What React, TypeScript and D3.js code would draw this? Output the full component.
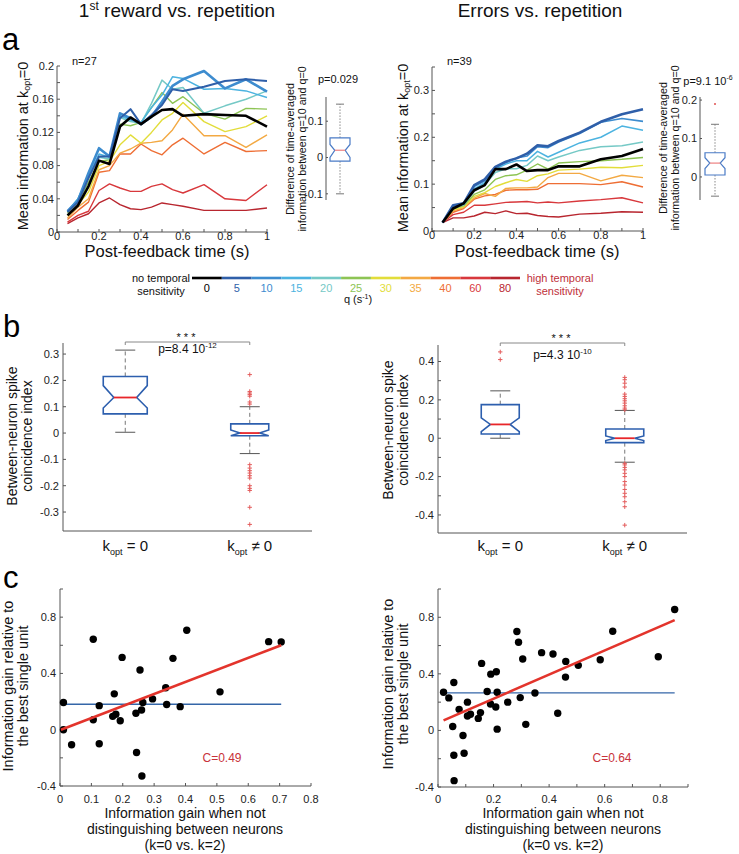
import React from 'react';
import * as d3 from 'd3';

const FONT = "'Liberation Sans', Arial, Helvetica, sans-serif";
const W = 739;
const H = 854;

// ---------------- data ----------------
const qValues = ['0', '5', '10', '15', '20', '25', '30', '35', '40', '60', '80'];
const qColors = ['#000000', '#2f5fa9', '#3d8ccf', '#4cb3e0', '#75c9c6', '#8dc454', '#e2dd3a', '#f3a943', '#ee6e34', '#d8383c', '#b8262f'];
const postFeedbackTimes = [0.05, 0.1, 0.15, 0.2, 0.25, 0.3, 0.35, 0.4, 0.45, 0.5, 0.55, 0.6, 0.7, 0.8, 0.9, 1.0];

// 1st reward vs repetition: mean information per q (rows follow qValues)
const rewardInfo = [
  [0.020, 0.032, 0.055, 0.086, 0.082, 0.127, 0.138, 0.130, 0.139, 0.147, 0.148, 0.140, 0.142, 0.141, 0.140, 0.127],
  [0.024, 0.036, 0.065, 0.091, 0.091, 0.137, 0.148, 0.130, 0.141, 0.153, 0.172, 0.170, 0.175, 0.182, 0.184, 0.182],
  [0.025, 0.038, 0.071, 0.101, 0.091, 0.143, 0.137, 0.130, 0.139, 0.157, 0.176, 0.184, 0.194, 0.173, 0.184, 0.169],
  [0.025, 0.040, 0.068, 0.094, 0.090, 0.140, 0.135, 0.132, 0.150, 0.165, 0.187, 0.185, 0.172, 0.173, 0.170, 0.162],
  [0.024, 0.040, 0.066, 0.090, 0.088, 0.138, 0.133, 0.131, 0.155, 0.183, 0.172, 0.174, 0.143, 0.152, 0.160, 0.170],
  [0.023, 0.036, 0.060, 0.085, 0.087, 0.130, 0.128, 0.132, 0.150, 0.168, 0.155, 0.163, 0.143, 0.136, 0.149, 0.148],
  [0.020, 0.033, 0.048, 0.080, 0.085, 0.105, 0.117, 0.107, 0.120, 0.135, 0.143, 0.156, 0.133, 0.121, 0.127, 0.140],
  [0.017, 0.030, 0.040, 0.075, 0.080, 0.095, 0.100, 0.107, 0.108, 0.110, 0.123, 0.142, 0.116, 0.116, 0.102, 0.117],
  [0.015, 0.026, 0.036, 0.072, 0.074, 0.094, 0.094, 0.106, 0.098, 0.093, 0.105, 0.113, 0.094, 0.108, 0.097, 0.098],
  [0.012, 0.020, 0.025, 0.050, 0.058, 0.053, 0.049, 0.049, 0.055, 0.058, 0.051, 0.047, 0.057, 0.040, 0.038, 0.057],
  [0.010, 0.017, 0.022, 0.035, 0.041, 0.033, 0.028, 0.027, 0.030, 0.035, 0.033, 0.031, 0.026, 0.026, 0.026, 0.029],
];
const rewardLineWidths = [2.6, 2.0, 2.6, 1.5, 1.5, 1.4, 1.4, 1.4, 1.4, 1.4, 1.4];

// Errors vs repetition
const errorInfo = [
  [0.018, 0.048, 0.059, 0.087, 0.098, 0.132, 0.132, 0.142, 0.128, 0.130, 0.130, 0.138, 0.138, 0.153, 0.160, 0.175],
  [0.018, 0.055, 0.059, 0.098, 0.110, 0.137, 0.148, 0.155, 0.165, 0.183, 0.181, 0.192, 0.210, 0.233, 0.249, 0.260],
  [0.018, 0.054, 0.058, 0.095, 0.107, 0.135, 0.146, 0.156, 0.160, 0.180, 0.178, 0.190, 0.208, 0.232, 0.240, 0.234],
  [0.018, 0.052, 0.057, 0.090, 0.103, 0.132, 0.143, 0.150, 0.150, 0.170, 0.158, 0.168, 0.188, 0.200, 0.224, 0.215],
  [0.018, 0.050, 0.056, 0.085, 0.098, 0.125, 0.133, 0.133, 0.140, 0.160, 0.150, 0.158, 0.172, 0.180, 0.182, 0.190],
  [0.018, 0.048, 0.054, 0.078, 0.088, 0.110, 0.118, 0.120, 0.130, 0.143, 0.132, 0.145, 0.148, 0.150, 0.153, 0.157],
  [0.018, 0.045, 0.052, 0.074, 0.082, 0.095, 0.103, 0.110, 0.106, 0.118, 0.122, 0.130, 0.132, 0.136, 0.135, 0.140],
  [0.018, 0.043, 0.050, 0.070, 0.080, 0.074, 0.091, 0.092, 0.092, 0.094, 0.114, 0.123, 0.123, 0.107, 0.119, 0.114],
  [0.018, 0.040, 0.048, 0.068, 0.075, 0.078, 0.087, 0.088, 0.088, 0.089, 0.101, 0.101, 0.101, 0.099, 0.105, 0.094],
  [0.018, 0.035, 0.040, 0.055, 0.055, 0.058, 0.061, 0.062, 0.063, 0.060, 0.062, 0.060, 0.064, 0.067, 0.071, 0.060],
  [0.018, 0.028, 0.028, 0.032, 0.040, 0.037, 0.043, 0.037, 0.038, 0.033, 0.031, 0.030, 0.036, 0.038, 0.041, 0.040],
];
const errorLineWidths = [2.6, 2.6, 1.6, 1.5, 1.5, 1.4, 1.4, 1.4, 1.4, 1.4, 1.4];

// difference boxplots (q=10 vs q=0)
const rewardDiffStats = { wLo: -0.1, q1: -0.01, nLo: 0.0, med: 0.02, nHi: 0.036, q3: 0.054, wHi: 0.147 };
const rewardDiffOutliers: number[] = [];
const errorDiffStats = { wLo: -0.05, q1: 0.005, nLo: 0.022, med: 0.036, nHi: 0.05, q3: 0.063, wHi: 0.137 };
const errorDiffOutliers = [0.19];

// coincidence index boxplots
const rewardCoincStats = [
  { wLo: 0.003, q1: 0.073, nLo: 0.095, med: 0.135, nHi: 0.18, q3: 0.215, wHi: 0.315 },
  { wLo: -0.078, q1: -0.01, nLo: -0.01, med: 0.0, nHi: 0.012, q3: 0.035, wHi: 0.1 },
];
const rewardCoincOutliers = [
  [] as number[],
  [0.222, 0.158, 0.152, 0.146, 0.14, 0.118, 0.11, -0.12, -0.133, -0.143, -0.152, -0.162, -0.171, -0.2, -0.21, -0.218, -0.282, -0.347],
];
const errorCoincStats = [
  { wLo: 0.0, q1: 0.022, nLo: 0.035, med: 0.072, nHi: 0.106, q3: 0.175, wHi: 0.247 },
  { wLo: -0.125, q1: -0.023, nLo: -0.012, med: 0.0, nHi: 0.012, q3: 0.048, wHi: 0.145 },
];
const errorCoincOutliers = [
  [0.45, 0.41],
  [0.317, 0.305, 0.287, 0.267, 0.23, 0.218, 0.206, 0.195, 0.183, 0.169, 0.157, 0.148,
    -0.131, -0.139, -0.152, -0.165, -0.183, -0.2, -0.226, -0.244, -0.267, -0.287, -0.305, -0.331, -0.357, -0.453],
];

// information gain scatter
const rewardGainX = [0.011, 0.011, 0.037, 0.106, 0.106, 0.125, 0.125, 0.173, 0.168, 0.178, 0.198, 0.192, 0.255, 0.242, 0.244, 0.26, 0.264, 0.261, 0.295, 0.337, 0.34, 0.36, 0.383, 0.404, 0.51, 0.665, 0.705];
const rewardGainY = [0.193, 0.0, -0.107, 0.643, 0.071, 0.171, -0.1, 0.255, 0.095, 0.11, 0.514, 0.064, 0.424, 0.117, -0.162, 0.14, 0.193, -0.329, 0.219, 0.298, 0.179, 0.507, 0.164, 0.707, 0.269, 0.626, 0.624];
const rewardFitX = [0.003, 0.705];
const rewardFitY = [0.0, 0.6];
const rewardMeanY = 0.181;

const errorGainX = [0.02, 0.039, 0.057, 0.053, 0.057, 0.058, 0.076, 0.09, 0.094, 0.106, 0.106, 0.117, 0.145, 0.153, 0.157, 0.177, 0.19, 0.189, 0.21, 0.208, 0.213, 0.213, 0.251, 0.284, 0.29, 0.296, 0.305, 0.316, 0.349, 0.373, 0.414, 0.431, 0.46, 0.459, 0.505, 0.584, 0.629, 0.793, 0.852];
const errorGainY = [0.27, 0.23, 0.339, 0.028, -0.175, -0.355, 0.149, -0.036, -0.161, 0.2, 0.102, 0.114, 0.085, 0.126, 0.474, 0.275, 0.398, 0.187, 0.415, 0.166, 0.27, 0.009, 0.2, 0.699, 0.623, 0.232, 0.505, 0.043, 0.265, 0.55, 0.54, 0.121, 0.488, 0.377, 0.46, 0.5, 0.701, 0.521, 0.855];
const errorFitX = [0.02, 0.852];
const errorFitY = [0.071, 0.78];
const errorMeanY = 0.265;

// ---------------- helpers ----------------
const fmt = (v: number) => String(+v.toFixed(3));
const AX = '#555';

type Scale = d3.ScaleLinear<number, number>;

function LeftAxis({ x, y, ticks, labels, fontSize = 11, len = 3, gap = 3, top, bottom }:
  { x: number; y: Scale; ticks: number[]; labels: number[]; fontSize?: number; len?: number; gap?: number; top: number; bottom: number }) {
  return (
    <g>
      <line x1={x} x2={x} y1={top} y2={bottom} stroke={AX} strokeWidth={1} />
      {ticks.map((t, i) => (
        <line key={'t' + i} x1={x} x2={x + len} y1={y(t)} y2={y(t)} stroke={AX} strokeWidth={1} />
      ))}
      {labels.map((t, i) => (
        <text key={'l' + i} x={x - gap} y={y(t)} dy="0.35em" textAnchor="end" fontSize={fontSize} fill="#222">{fmt(t)}</text>
      ))}
    </g>
  );
}

function BottomAxis({ y, x, ticks, labels, fontSize = 11, len = 3, left, right, labelY }:
  { y: number; x: Scale; ticks: number[]; labels: number[]; fontSize?: number; len?: number; left: number; right: number; labelY: number }) {
  return (
    <g>
      <line x1={left} x2={right} y1={y} y2={y} stroke={AX} strokeWidth={1} />
      {ticks.map((t, i) => (
        <line key={'t' + i} x1={x(t)} x2={x(t)} y1={y} y2={y - len} stroke={AX} strokeWidth={1} />
      ))}
      {labels.map((t, i) => (
        <text key={'l' + i} x={x(t)} y={labelY} textAnchor="middle" fontSize={fontSize} fill="#222">{fmt(t)}</text>
      ))}
    </g>
  );
}

type BoxStats = { wLo: number; q1: number; nLo: number; med: number; nHi: number; q3: number; wHi: number };

function NotchBox({ cx, w, y, s, outliers, boxColor, boxW, medColor, medW, whiskColor, whiskDash, capColor, capW, outColor, outSize }:
  { cx: number; w: number; y: Scale; s: BoxStats; outliers: number[]; boxColor: string; boxW: number; medColor: string; medW: number;
    whiskColor: string; whiskDash: string; capColor: string; capW: number; outColor: string; outSize: number }) {
  const l = cx - w / 2;
  const r = cx + w / 2;
  const ins = w * 0.24;
  const pts: [number, number][] = [
    [l, y(s.q3)], [r, y(s.q3)], [r, y(s.nHi)], [r - ins, y(s.med)], [r, y(s.nLo)], [r, y(s.q1)],
    [l, y(s.q1)], [l, y(s.nLo)], [l + ins, y(s.med)], [l, y(s.nHi)],
  ];
  const poly = d3.line()(pts) + 'Z';
  return (
    <g>
      <line x1={cx} x2={cx} y1={y(s.q3)} y2={y(s.wHi)} stroke={whiskColor} strokeWidth={1} strokeDasharray={whiskDash} />
      <line x1={cx} x2={cx} y1={y(s.q1)} y2={y(s.wLo)} stroke={whiskColor} strokeWidth={1} strokeDasharray={whiskDash} />
      <line x1={cx - capW / 2} x2={cx + capW / 2} y1={y(s.wHi)} y2={y(s.wHi)} stroke={capColor} strokeWidth={1} />
      <line x1={cx - capW / 2} x2={cx + capW / 2} y1={y(s.wLo)} y2={y(s.wLo)} stroke={capColor} strokeWidth={1} />
      <path d={poly} fill="none" stroke={boxColor} strokeWidth={boxW} strokeLinejoin="miter" />
      <line x1={l + ins} x2={r - ins} y1={y(s.med)} y2={y(s.med)} stroke={medColor} strokeWidth={medW} />
      {outliers.map((o, i) => (
        <g key={i} stroke={outColor} strokeWidth={1}>
          <line x1={cx - outSize} x2={cx + outSize} y1={y(o)} y2={y(o)} />
          <line x1={cx} x2={cx} y1={y(o) - outSize} y2={y(o) + outSize} />
        </g>
      ))}
    </g>
  );
}

function RotText({ x, y, size, children }: { x: number; y: number; size: number; children: React.ReactNode }) {
  return (
    <text transform={`translate(${x},${y}) rotate(-90)`} textAnchor="middle" dominantBaseline="central" fontSize={size} fill="#111">
      {children}
    </text>
  );
}

// ---------------- panel a ----------------
function InfoPanel({ xr, yr, yDomain, yLabels, yStep, series, widths, nLabel, nX }:
  { xr: [number, number]; yr: [number, number]; yDomain: [number, number]; yLabels: number[]; yStep: number;
    series: number[][]; widths: number[]; nLabel: string; nX: number }) {
  const x = d3.scaleLinear().domain([0, 1]).range(xr);
  const y = d3.scaleLinear().domain(yDomain).range(yr);
  const line = d3.line<number>().x((_, i) => x(postFeedbackTimes[i])).y((d) => y(d));
  const yTicks = d3.range(0, yDomain[1] + 1e-9, yStep);
  const xTicks = d3.range(0, 1.0001, 0.1);
  const order = [...d3.range(1, series.length).reverse(), 0];
  return (
    <g>
      <LeftAxis x={xr[0]} y={y} ticks={yTicks} labels={yLabels} top={yr[1]} bottom={yr[0]} fontSize={11} gap={3} />
      <BottomAxis y={yr[0]} x={x} ticks={xTicks} labels={[0, 0.2, 0.4, 0.6, 0.8, 1]} left={xr[0]} right={xr[1]} labelY={yr[0] + 7.5} fontSize={11} />
      {order.map((k) => (
        <path key={k} d={line(series[k]) || ''} fill="none" stroke={qColors[k]} strokeWidth={widths[k]} strokeLinejoin="round" />
      ))}
      <text x={nX} y={65} fontSize={11} fill="#111">{nLabel}</text>
    </g>
  );
}

function DiffBox({ axX, cx, yDomain, top, bottom, labels, stats, outliers }:
  { axX: number; cx: number; yDomain: [number, number]; top: number; bottom: number; labels: number[]; stats: BoxStats; outliers: number[] }) {
  const y = d3.scaleLinear().domain(yDomain).range([bottom, top]);
  return (
    <g>
      <LeftAxis x={axX} y={y} ticks={labels} labels={labels} top={top} bottom={bottom} fontSize={11} gap={3} len={2} />
      <NotchBox cx={cx} w={20} y={y} s={stats} outliers={[]} boxColor="#4a7bc6" boxW={1.2} medColor="#ef8a8a" medW={1.3}
        whiskColor="#888" whiskDash="1.5,1.5" capColor="#777" capW={8} outColor="#e05050" outSize={1} />
      {outliers.map((o, i) => (
        <circle key={i} cx={cx} cy={y(o)} r={1} fill="#e05050" />
      ))}
    </g>
  );
}

// ---------------- panel b ----------------
function CoincPanel({ xr, yr, yDomain, yTicks, yLabels, stats, outliers, widths, pMain, pExp, pY, starY, bracketY }:
  { xr: [number, number]; yr: [number, number]; yDomain: [number, number]; yTicks: number[]; yLabels: number[];
    stats: BoxStats[]; outliers: number[][]; widths: number[]; pMain: string; pExp: string; pY: number; starY: number; bracketY: number }) {
  const x = d3.scaleLinear().domain([0.5, 2.5]).range(xr);
  const y = d3.scaleLinear().domain(yDomain).range(yr);
  const c1 = x(1);
  const c2 = x(2);
  return (
    <g>
      <LeftAxis x={xr[0]} y={y} ticks={yTicks} labels={yLabels} top={yr[1]} bottom={yr[0]} fontSize={11} gap={4} />
      <line x1={xr[0]} x2={xr[1]} y1={yr[0]} y2={yr[0]} stroke={AX} strokeWidth={1} />
      {stats.map((s, i) => (
        <NotchBox key={i} cx={x(i + 1)} w={widths[i]} y={y} s={s} outliers={outliers[i]} boxColor="#2d5fae" boxW={1.6}
          medColor="#e8262a" medW={1.8} whiskColor="#777" whiskDash="4,3" capColor="#555" capW={20} outColor="#e35b5b" outSize={2.2} />
      ))}
      <path d={`M${c1},${bracketY + 3}V${bracketY}H${c2}V${bracketY + 3}`} fill="none" stroke="#888" strokeWidth={1} />
      <text x={(c1 + c2) / 2} y={starY} textAnchor="middle" fontSize={11} letterSpacing={3} fill="#111">***</text>
      <text x={(c1 + c2) / 2} y={pY} textAnchor="middle" fontSize={12} fill="#111">
        {pMain}<tspan dy={-5} fontSize={8}>{pExp}</tspan>
      </text>
      <text x={c1} y={551} textAnchor="middle" fontSize={15} fill="#111">
        k<tspan dy={4} fontSize={9}>opt</tspan><tspan dy={-4}> = 0</tspan>
      </text>
      <text x={c2} y={551} textAnchor="middle" fontSize={15} fill="#111">
        k<tspan dy={4} fontSize={9}>opt</tspan><tspan dy={-4}> ≠ 0</tspan>
      </text>
    </g>
  );
}

// ---------------- panel c ----------------
function GainPanel({ xr, yr, xMax, xTicks, xLabels, gx, gy, fitX, fitY, meanY, cLabel, cX }:
  { xr: [number, number]; yr: [number, number]; xMax: number; xTicks: number[]; xLabels: number[]; gx: number[]; gy: number[];
    fitX: number[]; fitY: number[]; meanY: number; cLabel: string; cX: number }) {
  const x = d3.scaleLinear().domain([0, xMax]).range(xr);
  const y = d3.scaleLinear().domain([-0.4, 1.0]).range(yr);
  const yTicks = d3.range(-0.4, 1.0001, 0.2);
  return (
    <g>
      <LeftAxis x={xr[0]} y={y} ticks={yTicks} labels={[-0.4, 0, 0.4, 0.8]} top={yr[1]} bottom={yr[0]} fontSize={11} gap={4} />
      <BottomAxis y={yr[0]} x={x} ticks={xTicks} labels={xLabels} left={xr[0]} right={xr[1]} labelY={803} fontSize={11} />
      <line x1={x(fitX[0])} x2={x(fitX[1])} y1={y(meanY)} y2={y(meanY)} stroke="#3466a8" strokeWidth={1.3} />
      {gx.map((v, i) => (
        <circle key={i} cx={x(v)} cy={y(gy[i])} r={3.7} fill="#000" />
      ))}
      <line x1={x(fitX[0])} x2={x(fitX[1])} y1={y(fitY[0])} y2={y(fitY[1])} stroke="#e3342c" strokeWidth={2.6} />
      <text x={cX} y={762} textAnchor="middle" fontSize={12} fill="#c8323a">{cLabel}</text>
    </g>
  );
}

function ColorBar() {
  const band = d3.scaleBand<string>().domain(qValues).range([192, 520]);
  const bw = band.bandwidth();
  return (
    <g>
      {qValues.map((q, i) => (
        <line key={'s' + q} x1={band(q)!} x2={band(q)! + bw} y1={278} y2={278} stroke={qColors[i]} strokeWidth={2.6} />
      ))}
      {qValues.map((q, i) => (
        <text key={'l' + q} x={band(q)! + bw / 2} y={292} textAnchor="middle" fontSize={11} fill={qColors[i]}>{q}</text>
      ))}
      <text x={161} y={282} textAnchor="middle" fontSize={11} fill="#111">no temporal</text>
      <text x={161} y={295} textAnchor="middle" fontSize={11} fill="#111">sensitivity</text>
      <text x={560} y={282} textAnchor="middle" fontSize={11} fill="#c0303a">high temporal</text>
      <text x={560} y={295} textAnchor="middle" fontSize={11} fill="#c0303a">sensitivity</text>
      <text x={358} y={303} textAnchor="middle" fontSize={11} fill="#111">
        q (s<tspan dy={-4} fontSize={7}>-1</tspan><tspan dy={4}>)</tspan>
      </text>
    </g>
  );
}

export default function App() {
  return (
    <svg width={W} height={H} viewBox={`0 0 ${W} ${H}`} fontFamily={FONT}
      style={{ position: 'absolute', left: 0, top: 0, display: 'block', background: '#fff' }}>
      <rect x={0} y={0} width={W} height={H} fill="#fff" />

      {/* titles */}
      <text x={177} y={17} textAnchor="middle" fontSize={19} fill="#111">
        1<tspan dy={-7} fontSize={12}>st</tspan><tspan dy={7}> reward vs. repetition</tspan>
      </text>
      <text x={540} y={17} textAnchor="middle" fontSize={19} fill="#111">Errors vs. repetition</text>

      {/* panel letters */}
      <text x={2} y={50} fontSize={31} fill="#000">a</text>
      <text x={3} y={337} fontSize={31} fill="#000">b</text>
      <text x={3} y={588} fontSize={31} fill="#000">c</text>

      {/* panel a */}
      <InfoPanel xr={[57, 267]} yr={[232, 66]} yDomain={[0, 0.2]} yLabels={[0, 0.04, 0.08, 0.12, 0.16, 0.2]} yStep={0.02}
        series={rewardInfo} widths={rewardLineWidths} nLabel="n=27" nX={72} />
      <InfoPanel xr={[432, 643]} yr={[231, 67]} yDomain={[0, 0.35]} yLabels={[0, 0.1, 0.2, 0.3]} yStep={0.05}
        series={errorInfo} widths={errorLineWidths} nLabel="n=39" nX={447} />

      <RotText x={23} y={146} size={14.5}>
        Mean information at k<tspan dy={4} fontSize={9}>opt</tspan><tspan dy={-4}>=0</tspan>
      </RotText>
      <RotText x={403} y={148} size={14.5}>
        Mean information at k<tspan dy={4} fontSize={9}>opt</tspan><tspan dy={-4}>=0</tspan>
      </RotText>
      <text x={167} y={257} textAnchor="middle" fontSize={16.5} fill="#111">Post-feedback time (s)</text>
      <text x={537} y={257} textAnchor="middle" fontSize={16.5} fill="#111">Post-feedback time (s)</text>

      <DiffBox axX={326} cx={340} yDomain={[-0.117, 0.1667]} top={97} bottom={200} labels={[-0.1, 0, 0.1]}
        stats={rewardDiffStats} outliers={rewardDiffOutliers} />
      <DiffBox axX={700} cx={715} yDomain={[-0.06, 0.208]} top={97} bottom={200} labels={[0, 0.1, 0.2]}
        stats={errorDiffStats} outliers={errorDiffOutliers} />
      <RotText x={290} y={149} size={10.7}>Difference of  time-averaged</RotText>
      <RotText x={302} y={149} size={10.7}>information between q=10 and q=0</RotText>
      <RotText x={663} y={148} size={10.7}>Difference of  time-averaged</RotText>
      <RotText x={675} y={148} size={10.7}>information between q=10 and q=0</RotText>
      <text x={338} y={83} textAnchor="middle" fontSize={11} fill="#111">p=0.029</text>
      <text x={708} y={85} textAnchor="middle" fontSize={11} fill="#111">
        p=9.1 10<tspan dy={-5} fontSize={7}>-6</tspan>
      </text>

      <ColorBar />

      {/* panel b */}
      <CoincPanel xr={[63, 312]} yr={[531, 343]} yDomain={[-0.372, 0.342]} yTicks={d3.range(-0.3, 0.3001, 0.1)}
        yLabels={[-0.3, -0.2, -0.1, 0, 0.1, 0.2, 0.3]} stats={rewardCoincStats} outliers={rewardCoincOutliers} widths={[44, 38]}
        pMain="p=8.4 10" pExp="-12" pY={353} starY={341} bracketY={342} />
      <CoincPanel xr={[438, 687]} yr={[533, 345]} yDomain={[-0.494, 0.486]} yTicks={d3.range(-0.4, 0.4001, 0.1)}
        yLabels={[-0.4, -0.2, 0, 0.2, 0.4]} stats={errorCoincStats} outliers={errorCoincOutliers} widths={[38, 38]}
        pMain="p=4.3 10" pExp="-10" pY={359} starY={342} bracketY={343} />
      <RotText x={11.5} y={436} size={14}>Between-neuron spike</RotText>
      <RotText x={26.5} y={436} size={14}>coincidence index</RotText>
      <RotText x={387.5} y={430} size={14}>Between-neuron spike</RotText>
      <RotText x={402.5} y={430} size={14}>coincidence index</RotText>

      {/* panel c */}
      <GainPanel xr={[60, 311]} yr={[786, 589]} xMax={0.8} xTicks={d3.range(0, 0.8001, 0.1)}
        xLabels={[0, 0.1, 0.2, 0.3, 0.4, 0.5, 0.6, 0.7, 0.8]} gx={rewardGainX} gy={rewardGainY}
        fitX={rewardFitX} fitY={rewardFitY} meanY={rewardMeanY} cLabel="C=0.49" cX={222} />
      <GainPanel xr={[438, 688]} yr={[787, 589]} xMax={0.9} xTicks={d3.range(0, 0.9001, 0.1)}
        xLabels={[0, 0.2, 0.4, 0.6, 0.8]} gx={errorGainX} gy={errorGainY}
        fitX={errorFitX} fitY={errorFitY} meanY={errorMeanY} cLabel="C=0.64" cX={612} />
      <RotText x={7.5} y={686} size={14.5}>Information gain relative to</RotText>
      <RotText x={22.5} y={686} size={14.5}>the best single unit</RotText>
      <RotText x={387.5} y={684} size={14.5}>Information gain relative to</RotText>
      <RotText x={402.5} y={684} size={14.5}>the best single unit</RotText>
      {[{ cx: 185 }, { cx: 563 }].map((p, i) => (
        <g key={i}>
          <text x={p.cx} y={818} textAnchor="middle" fontSize={14} fill="#111">Information gain when not</text>
          <text x={p.cx} y={834} textAnchor="middle" fontSize={14} fill="#111">distinguishing between neurons</text>
          <text x={p.cx} y={850} textAnchor="middle" fontSize={14} fill="#111">(k=0 vs. k=2)</text>
        </g>
      ))}
    </svg>
  );
}
